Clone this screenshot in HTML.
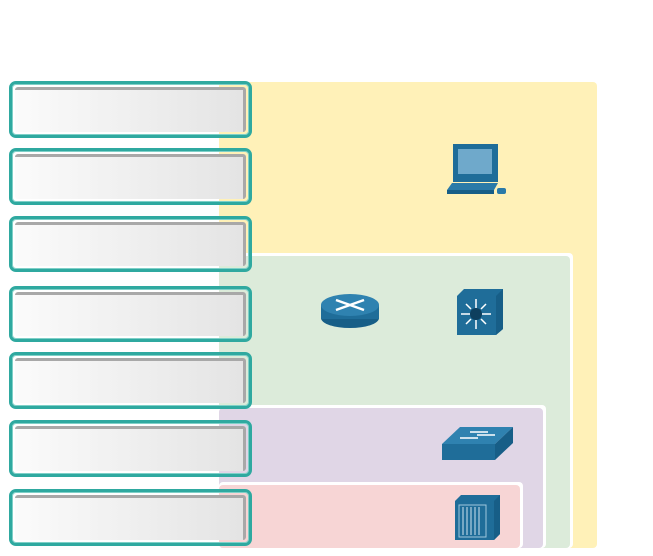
<!DOCTYPE html>
<html><head><style>
html,body{margin:0;width:653px;height:556px;background:#fff;position:relative;overflow:hidden;font-family:"Liberation Sans",sans-serif}
.p{position:absolute;border-radius:4px}
.b{position:absolute;left:9px;width:237px;border:3px solid #2fa9a0;border-radius:7px;box-shadow:inset 0 0 0 1px #7fd0c8}
.b i{position:absolute;left:3px;top:3px;right:3px;bottom:3px;border-radius:3px;background:linear-gradient(90deg,#fbfbfb,#e4e4e4);border-top:3px solid #a8a8a8;border-right:3px solid #a8a8a8;box-sizing:border-box}
</style></head><body>
<div class="p" style="left:219px;top:82px;width:378px;height:466px;background:#fff1b8"></div>
<div class="p" style="left:219px;top:253px;width:354px;height:295px;background:#fff"></div>
<div class="p" style="left:219px;top:256px;width:351px;height:292px;background:#dcebda"></div>
<div class="p" style="left:219px;top:405px;width:327px;height:143px;background:#fff"></div>
<div class="p" style="left:219px;top:408px;width:324px;height:140px;background:#e0d6e6"></div>
<div class="p" style="left:219px;top:482px;width:304px;height:66px;background:#fff"></div>
<div class="p" style="left:219px;top:485px;width:301px;height:63px;background:#f7d5d5"></div>

<div class="b" style="top:81px;height:51px"><i></i></div>
<div class="b" style="top:148px;height:51px"><i></i></div>
<div class="b" style="top:216px;height:50px"><i></i></div>
<div class="b" style="top:286px;height:50px"><i></i></div>
<div class="b" style="top:352px;height:51px"><i></i></div>
<div class="b" style="top:420px;height:51px"><i></i></div>
<div class="b" style="top:489px;height:51px"><i></i></div>

<svg style="position:absolute;left:0;top:0" width="653" height="556">
<rect x="453" y="144" width="45" height="38" fill="#1f6d99"/>
<rect x="458" y="149" width="34" height="25" fill="#6fa9cb"/>
<polygon points="452,183 498,183 494,190 447,190" fill="#2a7aa8"/>
<rect x="447" y="190" width="47" height="4" fill="#175e87"/>
<rect x="497" y="188" width="9" height="6" rx="2" fill="#2a7aa8"/>
<ellipse cx="350" cy="318" rx="29" ry="10" fill="#175e87"/>
<rect x="321" y="305" width="58" height="14" fill="#1f6d99"/>
<ellipse cx="350" cy="305" rx="29" ry="11" fill="#2f82b0"/>
<path d="M336,300 L364,310 M364,300 L336,310" stroke="#fff" stroke-width="2.5"/>
<polygon points="457,296 464,289 503,289 503,329 496,335 457,335" fill="#1f6d99"/>
<polygon points="496,296 503,289 503,329 496,335" fill="#175e87"/>
<circle cx="476" cy="314" r="6" fill="#0e3f5e"/>
<path d="M476,299V308M476,320V329M461,314H470M482,314H491M466,304L471,309M481,319L486,324M486,304L481,309M466,324L471,319" stroke="#fff" stroke-width="1.5"/>
<polygon points="442,444 460,427 513,427 495,444" fill="#2f82b0"/>
<rect x="442" y="444" width="53" height="16" fill="#1f6d99"/>
<polygon points="495,444 513,427 513,443 495,460" fill="#175e87"/>
<path d="M460,438H478M470,432H488M477,435H495" stroke="#fff" stroke-width="1.5"/>
<polygon points="455,501 461,495 500,495 500,534 494,540 455,540" fill="#1f6d99"/>
<polygon points="494,501 500,495 500,534 494,540" fill="#175e87"/>
<rect x="459" y="505" width="27" height="32" fill="none" stroke="#9fc6dd"/>
<path d="M463,507V535M467,507V535M471,507V535M475,507V535M479,507V535" stroke="#cfe3ef" stroke-width="1"/>
</svg>
</body></html>
